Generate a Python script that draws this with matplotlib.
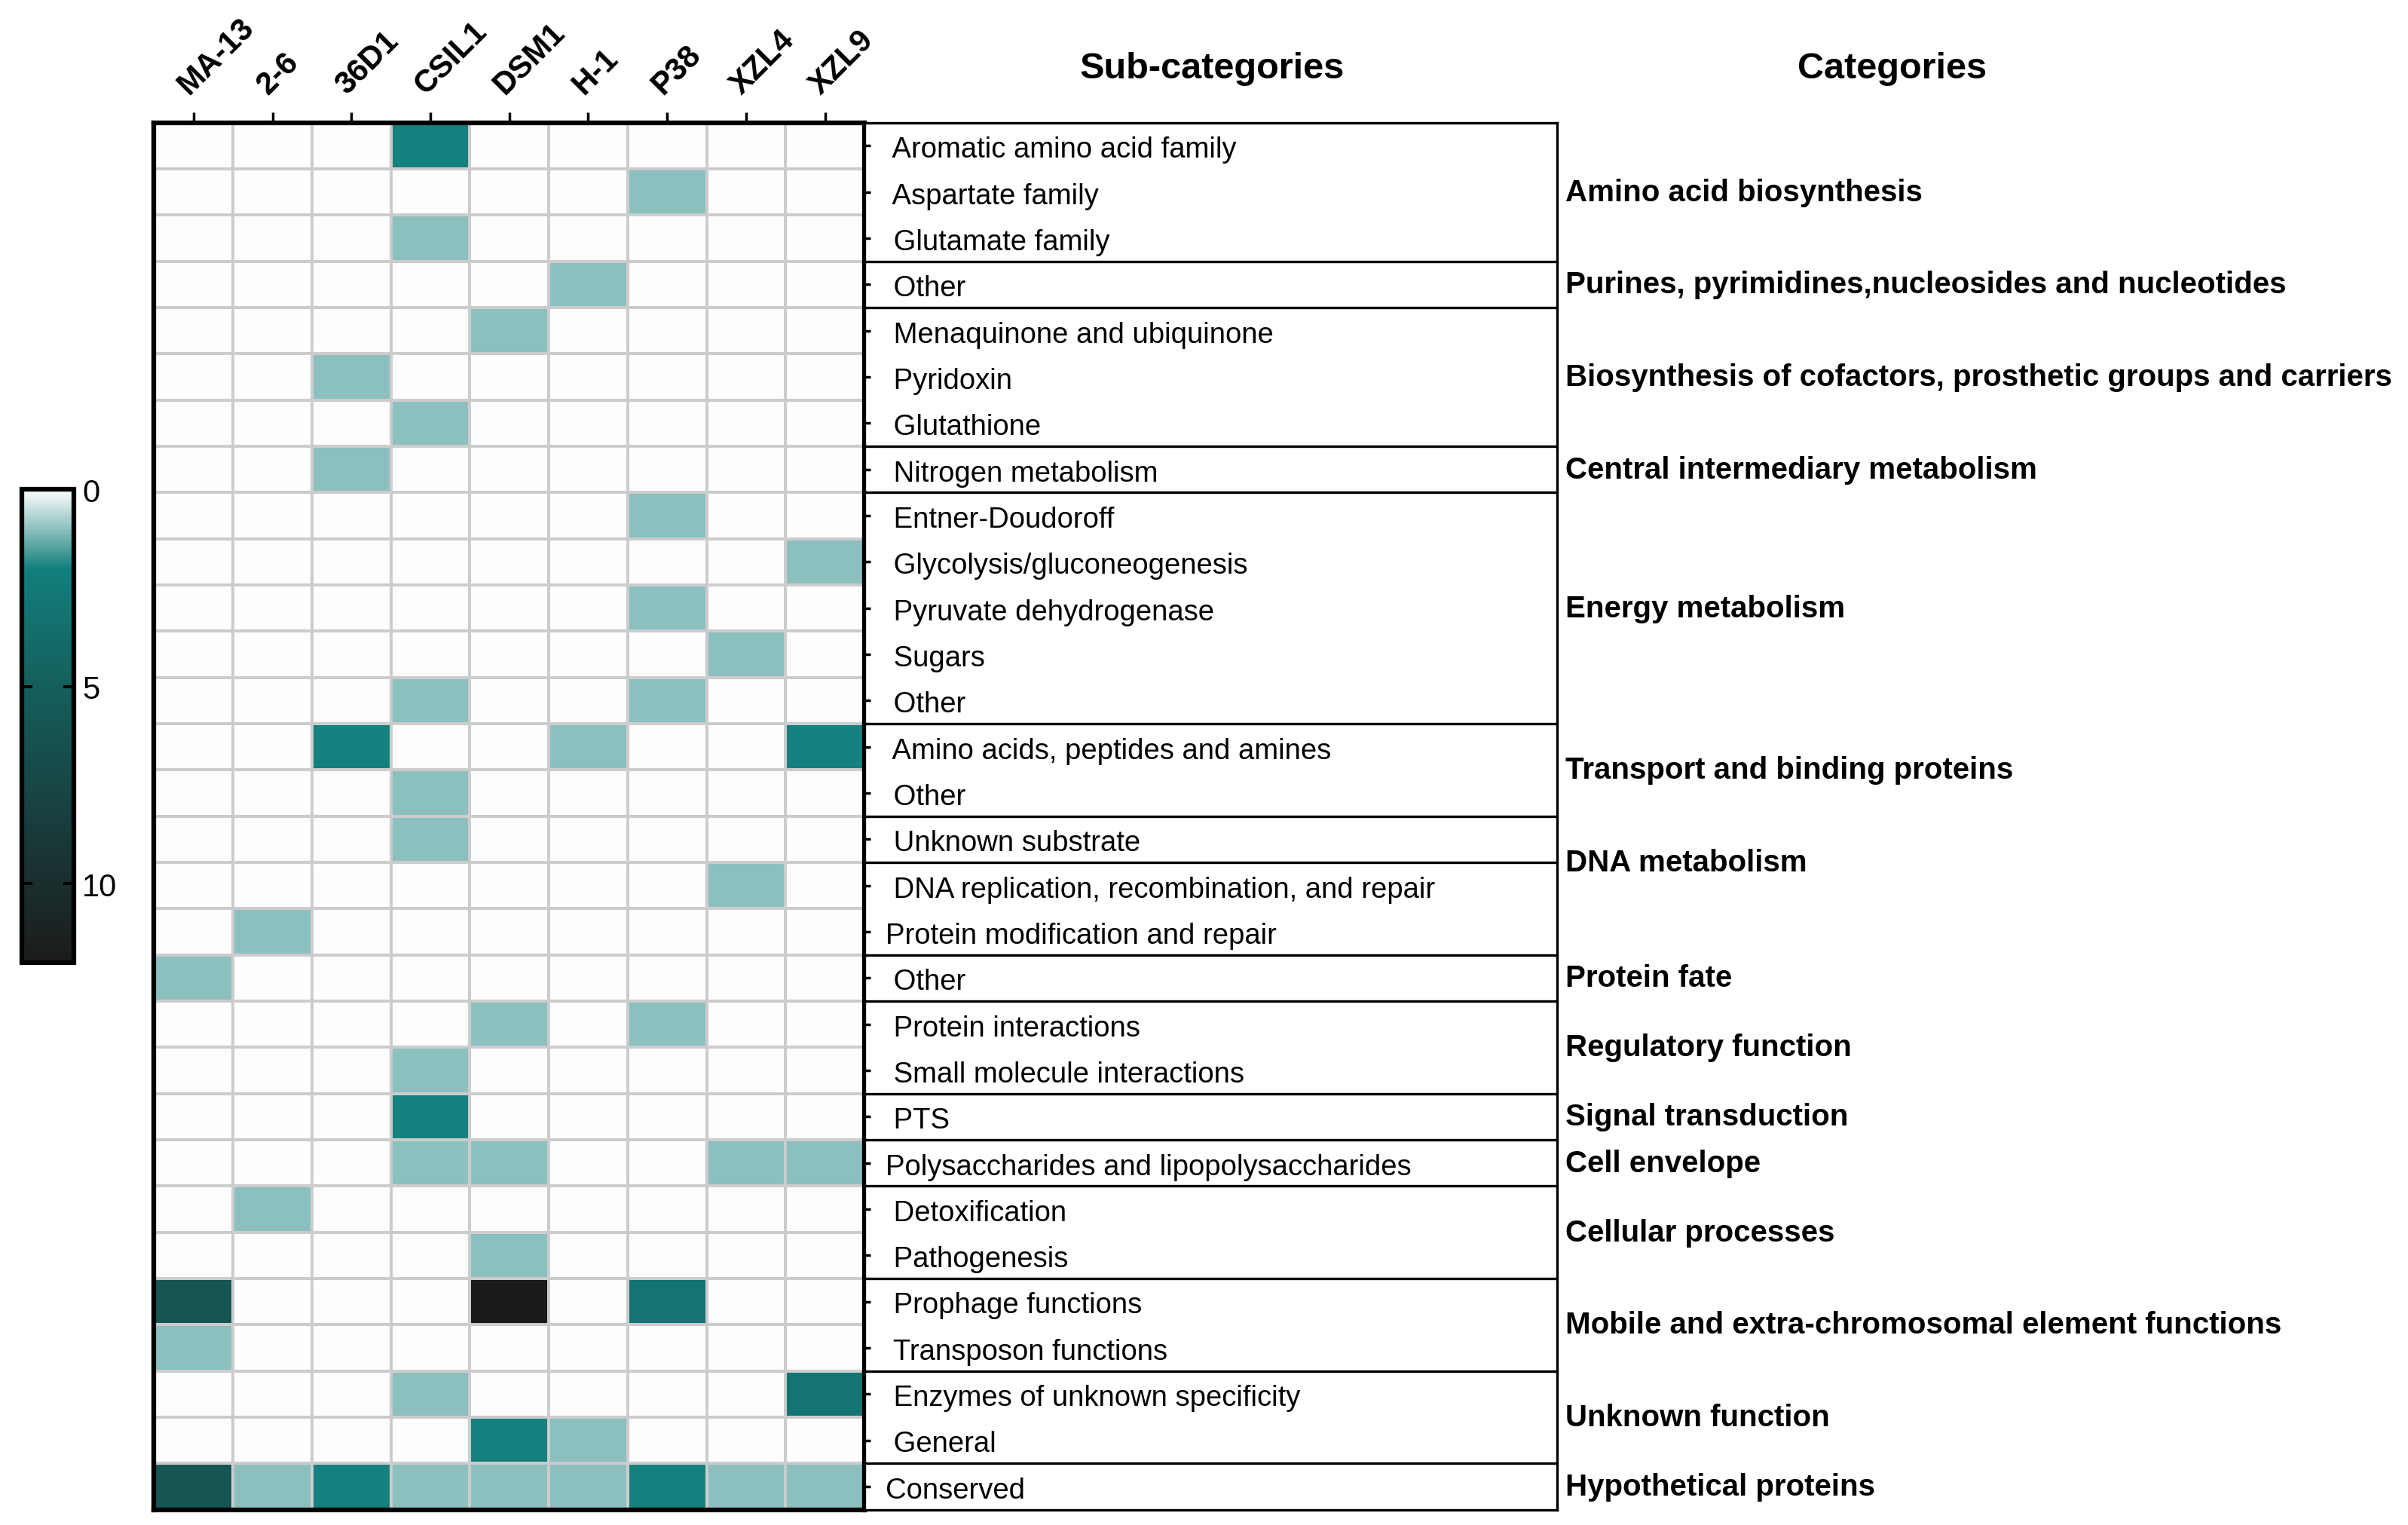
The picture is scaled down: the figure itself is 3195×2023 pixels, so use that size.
import numpy as np
import matplotlib
matplotlib.use('Agg')
import matplotlib.pyplot as plt
from matplotlib.colors import LinearSegmentedColormap
from matplotlib.transforms import blended_transform_factory

plt.rcParams['font.family'] = ['Liberation Sans', 'DejaVu Sans']

strains = ['MA-13', '2-6', '36D1', 'CSIL1', 'DSM1', 'H-1', 'P38', 'XZL4', 'XZL9']

# leading spaces kept as in the original labels
subcategories = [
    ' Aromatic amino acid family', ' Aspartate family', ' Glutamate family',
    ' Other',
    ' Menaquinone and ubiquinone', ' Pyridoxin', ' Glutathione',
    ' Nitrogen metabolism',
    ' Entner-Doudoroff', ' Glycolysis/gluconeogenesis', ' Pyruvate dehydrogenase',
    ' Sugars', ' Other',
    ' Amino acids, peptides and amines', ' Other',
    ' Unknown substrate',
    ' DNA replication, recombination, and repair', 'Protein modification and repair',
    ' Other',
    ' Protein interactions', ' Small molecule interactions',
    ' PTS',
    'Polysaccharides and lipopolysaccharides',
    ' Detoxification', ' Pathogenesis',
    ' Prophage functions', ' Transposon functions',
    ' Enzymes of unknown specificity', ' General',
    'Conserved',
]

# number of genes per sub-category (rows) and strain (columns)
counts = [
    [0, 0, 0, 2, 0, 0, 0, 0, 0],   # Aromatic amino acid family
    [0, 0, 0, 0, 0, 0, 1, 0, 0],   # Aspartate family
    [0, 0, 0, 1, 0, 0, 0, 0, 0],   # Glutamate family
    [0, 0, 0, 0, 0, 1, 0, 0, 0],   # Other (purines)
    [0, 0, 0, 0, 1, 0, 0, 0, 0],   # Menaquinone and ubiquinone
    [0, 0, 1, 0, 0, 0, 0, 0, 0],   # Pyridoxin
    [0, 0, 0, 1, 0, 0, 0, 0, 0],   # Glutathione
    [0, 0, 1, 0, 0, 0, 0, 0, 0],   # Nitrogen metabolism
    [0, 0, 0, 0, 0, 0, 1, 0, 0],   # Entner-Doudoroff
    [0, 0, 0, 0, 0, 0, 0, 0, 1],   # Glycolysis/gluconeogenesis
    [0, 0, 0, 0, 0, 0, 1, 0, 0],   # Pyruvate dehydrogenase
    [0, 0, 0, 0, 0, 0, 0, 1, 0],   # Sugars
    [0, 0, 0, 1, 0, 0, 1, 0, 0],   # Other (energy)
    [0, 0, 2, 0, 0, 1, 0, 0, 2],   # Amino acids, peptides and amines
    [0, 0, 0, 1, 0, 0, 0, 0, 0],   # Other (transport)
    [0, 0, 0, 1, 0, 0, 0, 0, 0],   # Unknown substrate
    [0, 0, 0, 0, 0, 0, 0, 1, 0],   # DNA replication
    [0, 1, 0, 0, 0, 0, 0, 0, 0],   # Protein modification and repair
    [1, 0, 0, 0, 0, 0, 0, 0, 0],   # Other (protein fate)
    [0, 0, 0, 0, 1, 0, 1, 0, 0],   # Protein interactions
    [0, 0, 0, 1, 0, 0, 0, 0, 0],   # Small molecule interactions
    [0, 0, 0, 2, 0, 0, 0, 0, 0],   # PTS
    [0, 0, 0, 1, 1, 0, 0, 1, 1],   # Polysaccharides and lipopolysaccharides
    [0, 1, 0, 0, 0, 0, 0, 0, 0],   # Detoxification
    [0, 0, 0, 0, 1, 0, 0, 0, 0],   # Pathogenesis
    [6, 0, 0, 0, 12, 0, 3, 0, 0],  # Prophage functions
    [1, 0, 0, 0, 0, 0, 0, 0, 0],   # Transposon functions
    [0, 0, 0, 1, 0, 0, 0, 0, 3],   # Enzymes of unknown specificity
    [0, 0, 0, 0, 2, 1, 0, 0, 0],   # General
    [6, 1, 2, 1, 1, 1, 2, 1, 1],   # Conserved
]

categories = [
    'Amino acid biosynthesis',
    'Purines, pyrimidines,nucleosides and nucleotides',
    'Biosynthesis of cofactors, prosthetic groups and carriers',
    'Central intermediary metabolism',
    'Energy metabolism',
    'Transport and binding proteins',
    'DNA metabolism',
    'Protein fate',
    'Regulatory function',
    'Signal transduction',
    'Cell envelope',
    'Cellular processes',
    'Mobile and extra-chromosomal element functions',
    'Unknown function',
    'Hypothetical proteins',
]
cat_first_row = [0, 3, 4, 7, 8, 13, 15, 18, 19, 21, 22, 23, 25, 27, 29]
cat_last_row = [2, 3, 6, 7, 12, 14, 16, 18, 20, 21, 22, 24, 26, 28, 29]

# rows after which a separator line is drawn in the sub-category box
box_breaks = [3, 4, 7, 8, 13, 15, 16, 18, 19, 21, 22, 23, 25, 27, 29]

values = np.array(counts)
n_rows, n_cols = values.shape

cmap = LinearSegmentedColormap.from_list('teal', [
    (0.0, '#fdfdfd'), (1 / 12, '#8abfbe'), (2 / 12, '#127f7c'),
    (5 / 12, '#145f5d'), (10 / 12, '#1a2e2e'), (1.0, '#1b1b1b')])

fig = plt.figure(figsize=(31.95, 20.24), dpi=100)

# heatmap
ax = fig.add_axes([0.064, 0.0101, 0.295, 0.909])
mesh = ax.pcolormesh(values, cmap=cmap, vmin=0, vmax=12,
                     edgecolors='#cccccc', linewidth=2.8)
ax.set_xlim(0, n_cols)
ax.set_ylim(n_rows, 0)
ax.xaxis.tick_top()
ax.set_xticks(np.arange(n_cols) + 0.5)
ax.set_xticklabels(strains, rotation=45, ha='left', va='bottom',
                   rotation_mode='anchor', fontsize=30, fontweight='bold')
ax.tick_params(axis='x', length=10, width=2.5, pad=12)
ax.set_yticks([])
for s in ax.spines.values():
    s.set_linewidth(4.5)

# sub-category box
ax2 = fig.add_axes([0.359, 0.0101, 0.2875, 0.909])
ax2.set_xlim(0, 1)
ax2.set_ylim(n_rows, 0)
ax2.hlines(box_breaks, 0, 1, color='black', linewidth=2.4)
ax2.set_xticks([])
ax2.set_yticks(np.arange(n_rows) + 0.5)
ax2.tick_params(axis='y', direction='in', length=6, width=2.5, labelleft=False)
for s in ax2.spines.values():
    s.set_linewidth(2.4)
for i, name in enumerate(subcategories):
    ax2.text(0.031, i + 0.58, name, va='center', ha='left', fontsize=27.5)

# category labels
trans = blended_transform_factory(fig.transFigure, ax2.transData)
for name, a, b in zip(categories, cat_first_row, cat_last_row):
    ax2.text(0.650, (a + b + 1) / 2, name, transform=trans, va='center',
             ha='left', fontsize=29, fontweight='bold', clip_on=False)

fig.text(0.5035, 0.9546, 'Sub-categories', ha='center', va='center',
         fontsize=35, fontweight='bold')
fig.text(0.7857, 0.9546, 'Categories', ha='center', va='center',
         fontsize=35, fontweight='bold')

# colour bar
cax = fig.add_axes([0.009, 0.3687, 0.0217, 0.3101])
cb = fig.colorbar(mesh, cax=cax, ticks=[0, 5, 10])
cax.invert_yaxis()
cb.outline.set_linewidth(4.5)
cax.tick_params(direction='in', left=True, right=True, length=10, width=3,
                labelsize=30, pad=8)

fig.savefig('out.png', dpi=100, facecolor='white')
